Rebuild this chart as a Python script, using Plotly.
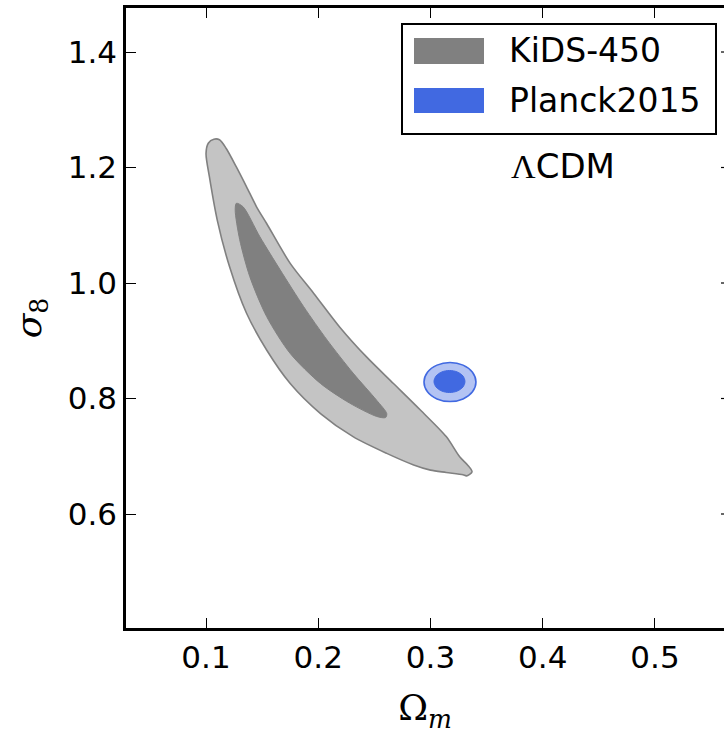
import plotly.graph_objects as go

# ---------------- data ----------------
series_names = ["KiDS-450", "Planck2015"]

# KiDS-450 95% contour boundary (Omega_m, sigma_8)
kids95_om = [0.107, 0.112, 0.118, 0.127, 0.136, 0.145, 0.154, 0.175, 0.196, 0.219,
             0.243, 0.267, 0.291, 0.314, 0.326, 0.333, 0.337, 0.332, 0.329, 0.314,
             0.300, 0.285, 0.261, 0.231, 0.202, 0.175, 0.154, 0.136, 0.121,
             0.110, 0.103, 0.100, 0.102]
kids95_s8 = [1.249, 1.248, 1.233, 1.201, 1.167, 1.132, 1.103, 1.034, 0.982, 0.924,
             0.872, 0.826, 0.780, 0.734, 0.699, 0.685, 0.673, 0.666, 0.668, 0.672,
             0.676, 0.685, 0.705, 0.734, 0.774, 0.826, 0.884, 0.948, 1.028,
             1.109, 1.184, 1.224, 1.242]

# KiDS-450 68% contour boundary
kids68_om = [0.127, 0.133, 0.148, 0.166, 0.187, 0.208, 0.231, 0.252, 0.261, 0.260,
             0.252, 0.228, 0.202, 0.175, 0.154, 0.139, 0.130, 0.126]
kids68_s8 = [1.138, 1.132, 1.080, 1.023, 0.959, 0.901, 0.844, 0.797, 0.774, 0.767,
             0.769, 0.792, 0.826, 0.878, 0.942, 1.011, 1.075, 1.126]

# Planck2015 95% contour boundary
planck95_om = [0.3405, 0.3374, 0.3290, 0.3174, 0.3058, 0.2973,
               0.2942, 0.2973, 0.3058, 0.3174, 0.3290, 0.3374]
planck95_s8 = [0.8286, 0.8454, 0.8578, 0.8623, 0.8578, 0.8454,
               0.8286, 0.8116, 0.7993, 0.7948, 0.7993, 0.8116]

# Planck2015 68% contour boundary
planck68_om = [0.3307, 0.3289, 0.3239, 0.3169, 0.3100, 0.3050,
               0.3031, 0.3050, 0.3100, 0.3169, 0.3239, 0.3289]
planck68_s8 = [0.8294, 0.8390, 0.8459, 0.8485, 0.8459, 0.8390,
               0.8294, 0.8199, 0.8130, 0.8104, 0.8130, 0.8199]

x_ticks = [0.1, 0.2, 0.3, 0.4, 0.5]
y_ticks = [0.6, 0.8, 1.0, 1.2, 1.4]
x_range = [0.0287, 0.5615]
y_range = [0.4026, 1.4762]

# ---------------- styles ----------------
KIDS_LIGHT = "#c4c4c4"
KIDS_DARK = "#808080"
PLANCK_LIGHT = "#b3c3f3"
PLANCK_DARK = "#4169e1"


def closed(a):
    return list(a) + [a[0]]


fig = go.Figure()
fig.add_trace(go.Scatter(x=closed(kids95_om), y=closed(kids95_s8), mode="lines",
                         fill="toself", fillcolor=KIDS_LIGHT,
                         line=dict(color=KIDS_DARK, width=1.6, shape="spline", smoothing=0.8),
                         showlegend=False, hoverinfo="skip"))
fig.add_trace(go.Scatter(x=closed(kids68_om), y=closed(kids68_s8), mode="lines",
                         fill="toself", fillcolor=KIDS_DARK,
                         line=dict(color=KIDS_DARK, width=1, shape="spline", smoothing=0.8),
                         showlegend=False, hoverinfo="skip"))
fig.add_trace(go.Scatter(x=closed(planck95_om), y=closed(planck95_s8), mode="lines",
                         fill="toself", fillcolor=PLANCK_LIGHT,
                         line=dict(color=PLANCK_DARK, width=1.6, shape="spline", smoothing=1),
                         showlegend=False, hoverinfo="skip"))
fig.add_trace(go.Scatter(x=closed(planck68_om), y=closed(planck68_s8), mode="lines",
                         fill="toself", fillcolor=PLANCK_DARK,
                         line=dict(color=PLANCK_DARK, width=1, shape="spline", smoothing=1),
                         showlegend=False, hoverinfo="skip"))

W, H = 724, 734
ML, MT, MB, MR = 126, 8, 106, 0
pw = W - ML - MR
ph = H - MT - MB


def px(xp):
    return (xp - ML) / pw


def py(yp):
    return (H - MB - yp) / ph


shapes = []
# right-side tick stubs (right spine falls just outside the picture)
for yt in y_ticks:
    shapes.append(dict(type="line", xref="paper", yref="y", x0=px(721), x1=1.0,
                       y0=yt, y1=yt, line=dict(color="black", width=1.2)))

# manual legend
shapes.append(dict(type="rect", xref="paper", yref="paper", x0=px(402), x1=px(716),
                   y0=py(134), y1=py(24), line=dict(color="black", width=2),
                   fillcolor="white", layer="above"))
shapes.append(dict(type="rect", xref="paper", yref="paper", x0=px(414), x1=px(484),
                   y0=py(64), y1=py(38), line=dict(width=0), fillcolor=KIDS_DARK,
                   layer="above"))
shapes.append(dict(type="rect", xref="paper", yref="paper", x0=px(414), x1=px(484),
                   y0=py(113), y1=py(88), line=dict(width=0), fillcolor=PLANCK_DARK,
                   layer="above"))

annotations = [
    dict(text=series_names[0], xref="paper", yref="paper", x=px(507), y=py(51),
         xanchor="left", yanchor="middle", showarrow=False,
         font=dict(family="DejaVu Sans", size=33, color="black")),
    dict(text=series_names[1], xref="paper", yref="paper", x=px(507), y=py(100),
         xanchor="left", yanchor="middle", showarrow=False,
         font=dict(family="DejaVu Sans", size=33, color="black")),
    dict(text="<span style='font-family:Liberation Serif'>Λ</span>CDM", xref="paper", yref="paper",
         x=px(563), y=py(166), xanchor="center", yanchor="middle", showarrow=False,
         font=dict(family="DejaVu Sans", size=34, color="black")),
]

fig.update_layout(
    width=W, height=H,
    margin=dict(l=ML, r=MR, t=MT, b=MB),
    paper_bgcolor="white", plot_bgcolor="white",
    shapes=shapes, annotations=annotations,
    showlegend=False,
    xaxis=dict(range=x_range, tickvals=x_ticks, ticktext=[f"{v:.1f}" for v in x_ticks],
               ticks="inside", ticklen=10, tickwidth=1.2, tickcolor="black",
               showline=True, linewidth=2.5, linecolor="black", mirror="ticks",
               showgrid=False, zeroline=False,
               tickfont=dict(family="DejaVu Sans", size=31, color="black"),
               title=dict(text="Ω<sub><i>m</i></sub>", standoff=22,
                          font=dict(family="DejaVu Serif", size=36, color="black"))),
    yaxis=dict(range=y_range, tickvals=y_ticks, ticktext=[f"{v:.1f}" for v in y_ticks],
               ticks="inside", ticklen=10, tickwidth=1.2, tickcolor="black",
               showline=True, linewidth=2.5, linecolor="black", mirror=False,
               showgrid=False, zeroline=False,
               tickfont=dict(family="DejaVu Sans", size=31, color="black"),
               title=dict(text="<i>σ</i><sub>8</sub>", standoff=16,
                          font=dict(family="DejaVu Serif", size=36, color="black"))),
)

fig.write_html("out.html", config={"displayModeBar": False},
               post_script="document.body.style.margin='0';document.body.style.overflow='hidden';")
